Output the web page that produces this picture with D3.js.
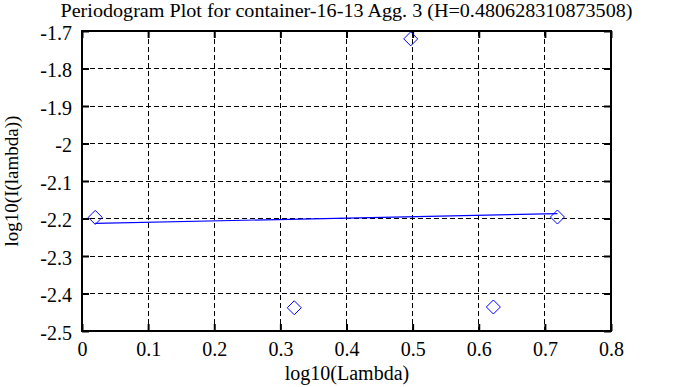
<!DOCTYPE html>
<html>
<head>
<meta charset="utf-8">
<script src="https://cdn.jsdelivr.net/npm/d3@7"></script>
<style>
  html, body { margin: 0; padding: 0; background: #fff; }
  svg { display: block; }
</style>
</head>
<body>
<svg id="chart" width="678" height="387"></svg>
<script>
// ---- data ----
const titleText = "Periodogram Plot for container-16-13 Agg. 3 (H=0.480628310873508)";
const xLabel = "log10(Lambda)";
const yLabel = "log10(I(lambda))";
const logLambda = [0.0200, 0.3210, 0.4971, 0.6221, 0.7190];
const logI = [-2.197, -2.438, -1.721, -2.436, -2.196];
const fitX = [0.0200, 0.7190];
const fitY = [-2.213, -2.187];
const xTicks = [0, 0.1, 0.2, 0.3, 0.4, 0.5, 0.6, 0.7, 0.8];
const yTicks = [-1.7, -1.8, -1.9, -2, -2.1, -2.2, -2.3, -2.4, -2.5];
const xTickLabels = ["0", "0.1", "0.2", "0.3", "0.4", "0.5", "0.6", "0.7", "0.8"];
const yTickLabels = ["-1.7", "-1.8", "-1.9", "-2", "-2.1", "-2.2", "-2.3", "-2.4", "-2.5"];

const FONT = "'Liberation Serif', 'Times New Roman', Times, 'DejaVu Serif', serif";
const svg = d3.select("#chart");
const L = 82, R = 611, T = 31, B = 331;
const x = d3.scaleLinear().domain([0, 0.8]).range([L, R]);
const y = d3.scaleLinear().domain([-2.5, -1.7]).range([B, T]);
const fs = 20;

// grid
const grid = svg.append("g");
grid.selectAll("line.vx").data(xTicks.slice(1, -1)).join("line")
  .attr("x1", d => x(d)).attr("x2", d => x(d)).attr("y1", T).attr("y2", B)
  .attr("stroke", "#000").attr("stroke-width", 1).attr("stroke-dasharray", "5,3")
  .attr("shape-rendering", "crispEdges");
grid.selectAll("line.hy").data(yTicks.slice(1, -1)).join("line")
  .attr("x1", L).attr("x2", R).attr("y1", d => y(d)).attr("y2", d => y(d))
  .attr("stroke", "#000").attr("stroke-width", 1).attr("stroke-dasharray", "5,3")
  .attr("shape-rendering", "crispEdges");

// axes with inward ticks on all sides
const tl = 7;
const axB = svg.append("g").attr("transform", `translate(0,${B})`)
  .call(d3.axisBottom(x).tickValues(xTicks).tickSizeInner(-tl).tickSizeOuter(0).tickPadding(tl + 9)
    .tickFormat((d, i) => xTickLabels[i]));
const axT = svg.append("g").attr("transform", `translate(0,${T})`)
  .call(d3.axisTop(x).tickValues(xTicks).tickSizeInner(-tl).tickSizeOuter(0).tickFormat(""));
const axL = svg.append("g").attr("transform", `translate(${L},0)`)
  .call(d3.axisLeft(y).tickValues(yTicks).tickSizeInner(-tl).tickSizeOuter(0).tickPadding(10)
    .tickFormat((d, i) => yTickLabels[i]));
const axR = svg.append("g").attr("transform", `translate(${R},0)`)
  .call(d3.axisRight(y).tickValues(yTicks).tickSizeInner(-tl).tickSizeOuter(0).tickFormat(""));
[axB, axT, axL, axR].forEach(a => {
  a.attr("font-family", null).attr("font-size", null);
  a.selectAll(".domain").remove();
  a.selectAll(".tick line").attr("stroke", "#000").attr("stroke-width", 2);
  a.selectAll("text").style("font-family", FONT).style("font-size", fs + "px").attr("fill", "#000");
});
axL.selectAll("text").attr("dy", "0.4em");
axB.selectAll("text").attr("dy", "0.45em");

// frame
svg.append("rect").attr("x", L).attr("y", T).attr("width", R - L).attr("height", B - T)
  .attr("fill", "none").attr("stroke", "#000").attr("stroke-width", 2);

// fit line
svg.append("line")
  .attr("x1", x(fitX[0])).attr("y1", y(fitY[0]))
  .attr("x2", x(fitX[1])).attr("y2", y(fitY[1]))
  .attr("stroke", "#0000ff").attr("stroke-width", 1.2);

// diamonds
const ds = 7;
svg.append("g").selectAll("path").data(logLambda).join("path")
  .attr("d", (d, i) => {
    const cx = x(d), cy = y(logI[i]);
    return `M${cx},${cy - ds}L${cx + ds},${cy}L${cx},${cy + ds}L${cx - ds},${cy}Z`;
  })
  .attr("fill", "none").attr("stroke", "#0000ff").attr("stroke-width", 1);

// title & labels
svg.append("text").attr("x", (L + R) / 2).attr("y", 17).attr("text-anchor", "middle")
  .style("font-family", FONT).style("font-size", "19px")
  .attr("textLength", 572).attr("lengthAdjust", "spacingAndGlyphs")
  .text(titleText);
svg.append("text").attr("x", (L + R) / 2 + 0.5).attr("y", 380).attr("text-anchor", "middle")
  .style("font-family", FONT).style("font-size", fs + "px").text(xLabel);
svg.append("text").attr("transform", `translate(18,${(T + B) / 2}) rotate(-90)`)
  .attr("text-anchor", "middle").style("font-family", FONT).style("font-size", "19px").text(yLabel);
</script>
</body>
</html>
